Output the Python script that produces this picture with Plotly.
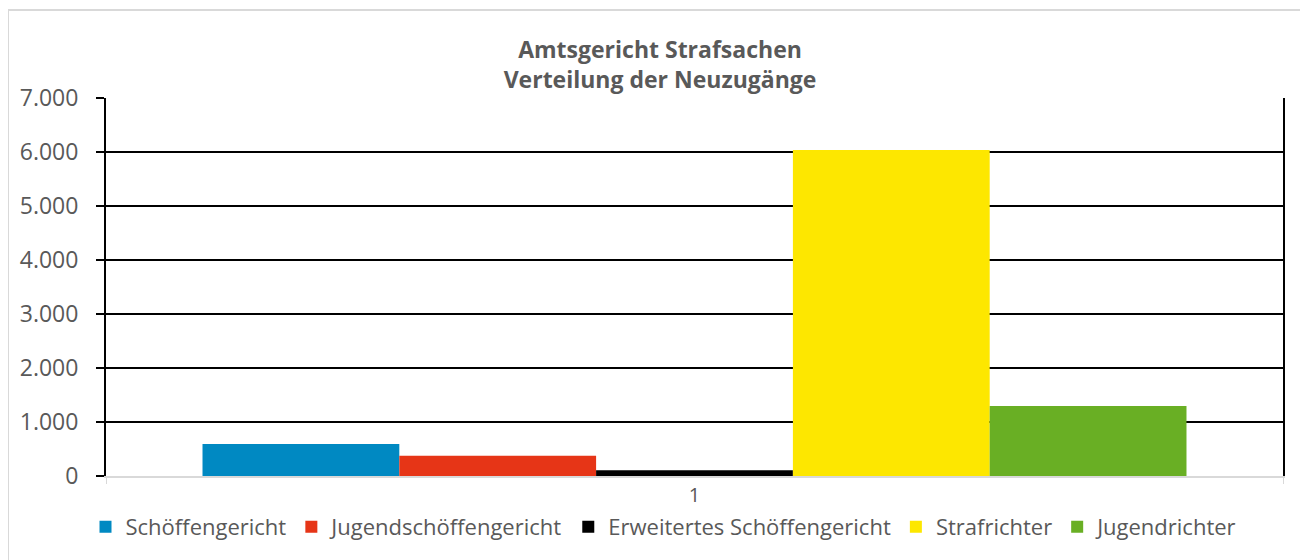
import plotly.graph_objects as go

categories = ["1"]
series_names = ["Schöffengericht", "Jugendschöffengericht", "Erweitertes Schöffengericht", "Strafrichter", "Jugendrichter"]
series_values = [[593], [376], [105], [6037], [1296]]
series_colors = ["#0089C2", "#E63517", "#000000", "#FDE700", "#69AF24"]
y_ticks = [0, 1000, 2000, 3000, 4000, 5000, 6000, 7000]
y_ticklabels = ["0", "1.000", "2.000", "3.000", "4.000", "5.000", "6.000", "7.000"]

FONT = "Open Sans"
GRAY = "#595959"
W, H = 1300, 552
ML, MR, MT, MB = 98, 25, 90, 84
PW, PH = W - ML - MR, H - MT - MB

fig = go.Figure()
for name, vals, col in zip(series_names, series_values, series_colors):
    fig.add_trace(go.Bar(x=categories, y=vals, name=name, marker=dict(color=col, line=dict(width=0))))

fig.update_layout(
    width=W, height=H,
    paper_bgcolor="white", plot_bgcolor="white",
    margin=dict(l=ML, r=MR, t=MT, b=MB, autoexpand=False),
    barmode="group", bargap=0.164, bargroupgap=0,
    title=dict(text="<b>Amtsgericht Strafsachen<br>Verteilung der Neuzugänge</b>",
               x=652 / W, xanchor="center", y=1 - 50 / H, yanchor="top",
               font=dict(family=FONT, size=23, color=GRAY)),
    font=dict(family=FONT, size=22, color=GRAY),
    legend=dict(orientation="h", x=(656.5 - ML) / PW, xanchor="center", y=-0.079, yanchor="top",
                font=dict(family=FONT, size=22, color=GRAY), itemwidth=30,
                traceorder="normal"),
    showlegend=True,
)
fig.update_yaxes(range=[0, 7000], tickvals=y_ticks, ticktext=y_ticklabels,
                 showgrid=True, gridcolor="black", gridwidth=2,
                 showline=True, mirror=True, linecolor="black", linewidth=2,
                 ticks="outside", ticklen=8, tickcolor="black", tickwidth=2,
                 ticklabelstandoff=13,
                 zeroline=False, tickfont=dict(family=FONT, size=23, color=GRAY))
fig.update_xaxes(showline=True, linecolor="#D9D9D9", linewidth=2,
                 ticks="outside", tickson="boundaries", ticklen=6, tickcolor="#D9D9D9",
                 tickfont=dict(family=FONT, size=20, color=GRAY))
fig.add_shape(type="rect", xref="paper", yref="paper",
              x0=-ML / PW, x1=1.2, y0=-1, y1=(MT + PH - 2) / PH,
              line=dict(color="#D9D9D9", width=2), fillcolor="rgba(0,0,0,0)", layer="below")
fig.write_html("out.html")
